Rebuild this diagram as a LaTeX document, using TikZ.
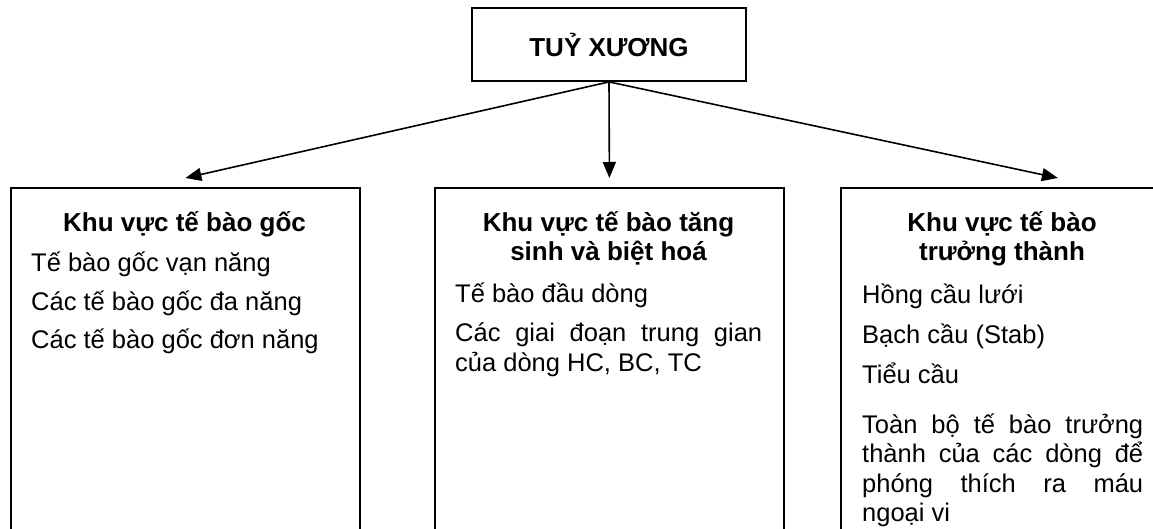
\documentclass[tikz,border=0pt]{standalone}
\usepackage{fontspec}
\setmainfont{Liberation Sans}
\usetikzlibrary{arrows.meta,calc}
\begin{document}
\begin{tikzpicture}[x=1pt,y=-1pt,
  frame/.style={draw, line width=1.8pt, inner sep=0pt},
  arr/.style={line width=1.6pt, -{Triangle[length=16pt,width=13pt]}},
  ttl/.style={font=\fontsize{26}{29}\selectfont\bfseries, anchor=base, inner sep=0pt},
  itm/.style={font=\fontsize{25.5}{30}\selectfont, anchor=base west, inner sep=0pt},
]
\useasboundingbox (0,0) rectangle (1153,529);
\fill[white] (0,0) rectangle (1153,529);
\clip (0,0) rectangle (1153,529);

% top box
\node[frame, minimum width=274pt, minimum height=73pt, text height=25pt, text depth=0pt,
      font=\fontsize{26}{29}\selectfont\bfseries] (top) at (609,44.5) {TUỶ XƯƠNG};

% lower boxes
\node[frame, minimum width=349pt, minimum height=400pt, anchor=north west] (boxL) at (10,187) {};
\node[frame, minimum width=349pt, minimum height=400pt, anchor=north west] (boxM) at (434,187) {};
\node[frame, minimum width=434pt, minimum height=400pt, anchor=north west] (boxR) at (840,187) {};

% arrows
\coordinate (tL) at ($(boxL.north)+(0,-9)$);
\coordinate (tM) at ($(boxM.north)+(0,-9)$);
\coordinate (tR) at ($(boxR.north)+(0,-9)$);
\draw[arr] (top.south) -- (tL);
\draw[arr] (top.south) -- (tM);
\draw[arr] (top.south) -- (tR);

% left box text
\node[ttl] (lt) at (184.5,232) {Khu vực tế bào gốc};
\node[itm] (l1) at (31,272) {Tế bào gốc vạn năng};
\node[itm] (l2) at (31,310) {Các tế bào gốc đa năng};
\node[itm] (l3) at (31,348) {Các tế bào gốc đơn năng};

% middle box text
\node[ttl] (mt1) at (608.5,232) {Khu vực tế bào tăng};
\node[ttl] (mt2) at (608.5,261) {sinh và biệt hoá};
\node[itm] (m1) at (455,302) {Tế bào đầu dòng};
\node[itm] (m2) at (455,341) {\makebox[307pt][s]{Các giai đoạn trung gian}};
\node[itm] (m3) at (455,371) {của dòng HC, BC, TC};

% right box text
\node[ttl] (rt1) at (1002,232) {Khu vực tế bào};
\node[ttl] (rt2) at (1002,261) {trưởng thành};
\node[itm] (r1) at (862,303) {Hồng cầu lưới};
\node[itm] (r2) at (862,343) {Bạch cầu (Stab)};
\node[itm] (r3) at (862,383) {Tiểu cầu};
\node[itm] (r4) at (862,433) {\makebox[281pt][s]{Toàn bộ tế bào trưởng}};
\node[itm] (r5) at (862,462) {\makebox[281pt][s]{thành của các dòng để}};
\node[itm] (r6) at (862,492) {\makebox[281pt][s]{phóng thích ra máu}};
\node[itm] (r7) at (862,521) {ngoại vi};
\end{tikzpicture}
\end{document}
